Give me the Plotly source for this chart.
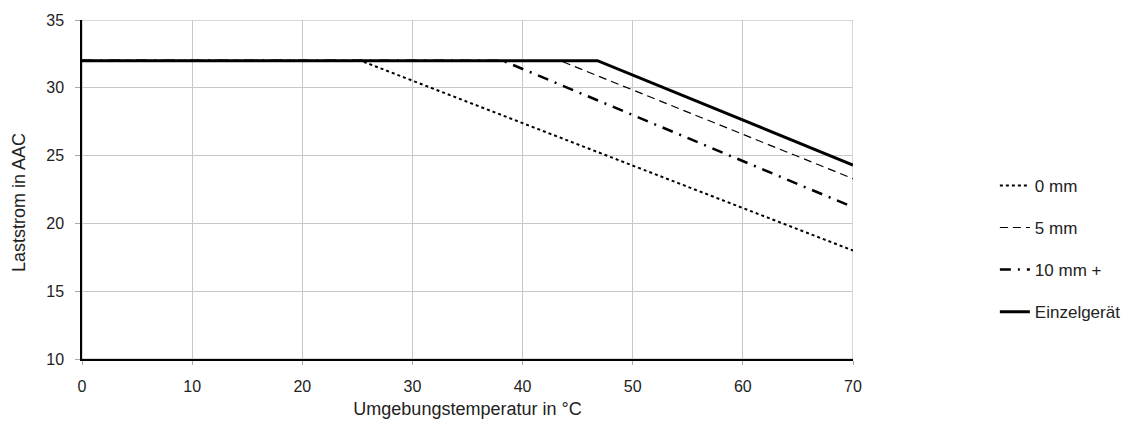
import plotly.graph_objects as go

names = ["0 mm", "5 mm", "10 mm +", "Einzelgerät"]
temp_0mm = [0, 25.3, 70]
curr_0mm = [32, 32, 18.0]
temp_5mm = [0, 43.4, 70]
curr_5mm = [32, 32, 23.3]
temp_10mm = [0, 38.2, 70]
curr_10mm = [32, 32, 21.2]
temp_single = [0, 46.8, 70]
curr_single = [32, 32, 24.3]

x_ticks = [0, 10, 20, 30, 40, 50, 60, 70]
y_ticks = [10, 15, 20, 25, 30, 35]

fig = go.Figure()
series = [
    (temp_0mm, curr_0mm, dict(color="black", width=2, dash="dot")),
    (temp_5mm, curr_5mm, dict(color="black", width=1.2, dash="8px,5px")),
    (temp_10mm, curr_10mm, dict(color="black", width=2.5, dash="11px,7px,2px,7px")),
    (temp_single, curr_single, dict(color="black", width=3, dash="solid")),
]
for i, (xs, ys, ln) in enumerate(series):
    fig.add_trace(go.Scatter(x=xs, y=ys, mode="lines", name=names[i], line=ln,
                             legendgroup=names[i]))

fig.add_shape(type="rect", xref="x", yref="y", x0=0, x1=70, y0=10, y1=35,
              line=dict(color="#b0b0b0", width=1), layer="below")

fig.add_annotation(text="Laststrom in AAC", xref="paper", yref="paper",
                   x=0, xshift=-63, y=0.46, textangle=-90, showarrow=False,
                   xanchor="center", yanchor="middle", font=dict(size=18, color="#222"))

fig.update_layout(
    width=1138, height=428,
    margin=dict(l=82, r=282, t=15, b=68),
    paper_bgcolor="white", plot_bgcolor="white",
    font=dict(family="Liberation Sans, Arial, sans-serif", size=16, color="#222"),
    showlegend=True,
    legend=dict(x=1.184, y=0.325, xanchor="left", yanchor="middle",
                tracegroupgap=17, font=dict(size=17), itemwidth=30),
    xaxis=dict(range=[0, 70], tickvals=x_ticks, showgrid=True, gridcolor="#c8c8c8",
               showline=True, linecolor="black", linewidth=1.5, ticks="outside",
               ticklen=4, tickcolor="#aaa", zeroline=False, ticklabelstandoff=8,
               tickfont=dict(size=16),
               title=dict(text="Umgebungstemperatur in °C", standoff=8, font=dict(size=18))),
    yaxis=dict(range=[10, 35], tickvals=y_ticks, showgrid=True, gridcolor="#c8c8c8",
               showline=True, linecolor="black", linewidth=1.5, ticks="outside",
               ticklen=5, tickcolor="#aaa", zeroline=False, ticklabelstandoff=8,
               tickfont=dict(size=16)),
)
fig.write_html("out.html")
